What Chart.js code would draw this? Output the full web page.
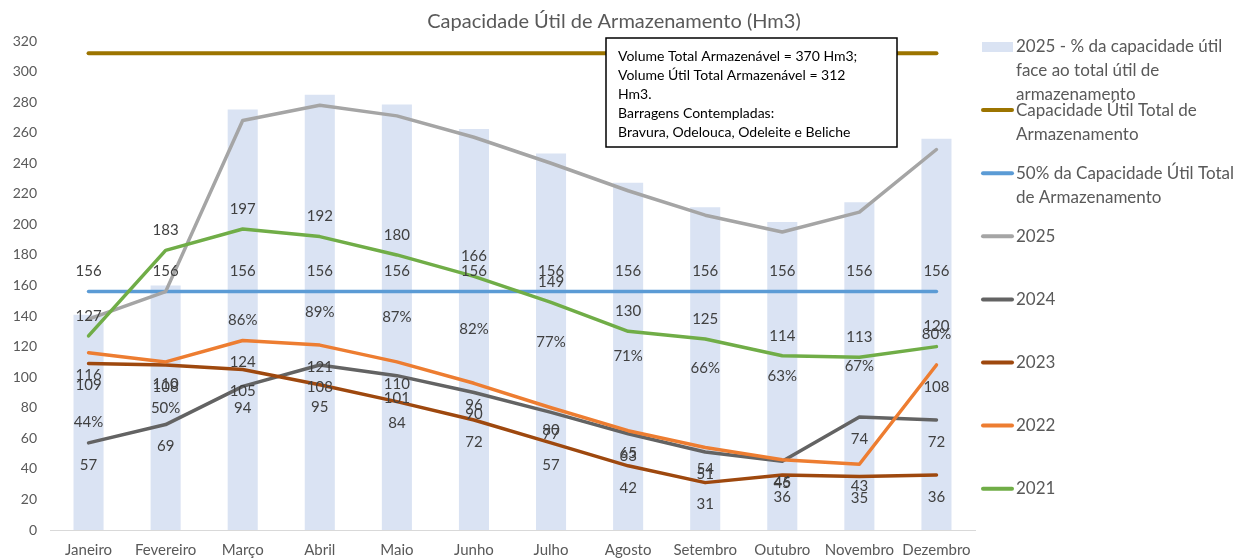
<!DOCTYPE html>
<html>
<head>
<meta charset="utf-8">
<script src="https://cdn.jsdelivr.net/npm/chart.js"></script>
<style>
    html, body { margin: 0; padding: 0; background: #fff; }
    #wrap { width: 1246px; height: 558px; position: relative; }
</style>
</head>
<body>
<div id="wrap"><canvas id="chartArmaz" width="1246" height="558"></canvas></div>
<script>
const months = ['Janeiro', 'Fevereiro', 'Março', 'Abril', 'Maio', 'Junho', 'Julho', 'Agosto', 'Setembro', 'Outubro', 'Novembro', 'Dezembro'];
const pct2025 = [44, 50, 86, 89, 87, 82, 77, 71, 66, 63, 67, 80];
const capTotal = [312, 312, 312, 312, 312, 312, 312, 312, 312, 312, 312, 312];
const cap50 = [156, 156, 156, 156, 156, 156, 156, 156, 156, 156, 156, 156];
const v2025 = [138, 156, 268, 278, 271, 257, 240, 222, 206, 195, 208, 249];
const v2024 = [57, 69, 94, 108, 101, 90, 77, 63, 51, 45, 74, 72];
const v2023 = [109, 108, 105, 95, 84, 72, 57, 42, 31, 36, 35, 36];
const v2022 = [116, 110, 124, 121, 110, 96, 80, 65, 54, 46, 43, 108];
const v2021 = [127, 183, 197, 192, 180, 166, 149, 130, 125, 114, 113, 120];

const titleText = 'Capacidade Útil de Armazenamento (Hm3)';
const noteLines = [
    'Volume Total Armazenável = 370 Hm3;',
    'Volume Útil Total Armazenável = 312',
    'Hm3.',
    'Barragens Contempladas:',
    'Bravura, Odelouca, Odeleite e Beliche'
];
const legendLines = [
    ['2025 - % da capacidade útil', 'face ao total útil de', 'armazenamento'],
    ['Capacidade Útil Total de', 'Armazenamento'],
    ['50% da Capacidade Útil Total', 'de Armazenamento'],
    ['2025'], ['2024'], ['2023'], ['2022'], ['2021']
];

const txt = '#595959';
Chart.defaults.font.family = 'Lato';
Chart.defaults.color = txt;

// data labels, placed from the library's own elements
const labelPlugin = {
    id: 'valueLabels',
    afterDatasetsDraw(chart) {
        const ctx = chart.ctx;
        ctx.save();
        ctx.font = '15px Lato';
        ctx.fillStyle = '#404040';
        ctx.textAlign = 'center';
        ctx.textBaseline = 'middle';
        chart.data.datasets.forEach((ds, i) => {
            if (!ds.labelPos) return;
            chart.getDatasetMeta(i).data.forEach((el, j) => {
                let y = el.y + 22;
                if (ds.labelPos === 'center') y = (el.y + el.base) / 2;
                if (ds.labelPos === 'above') y = el.y - 20;
                ctx.fillText(ds.data[j] + (ds.suffix || ''), el.x, y);
            });
        });
        ctx.restore();
    }
};

// title, note box and legend
const extrasPlugin = {
    id: 'extras',
    afterDraw(chart) {
        const ctx = chart.ctx;
        ctx.save();
        ctx.fillStyle = txt;
        ctx.font = '20px Lato';
        ctx.textAlign = 'center';
        ctx.textBaseline = 'middle';
        ctx.fillText(titleText, 614, 22);

        // note box
        ctx.fillStyle = '#fff';
        ctx.fillRect(606, 38, 291, 109);
        ctx.strokeStyle = '#000';
        ctx.lineWidth = 1.5;
        ctx.strokeRect(606, 38, 291, 109);
        ctx.fillStyle = '#000';
        ctx.font = '14px Lato';
        ctx.textAlign = 'left';
        noteLines.forEach((l, i) => ctx.fillText(l, 618, 56 + i * 19.2));

        // legend
        ctx.font = '17px Lato';
        chart.data.datasets.forEach((ds, i) => {
            const y = 47 + i * 63.1;
            if (ds.type === 'bar') {
                ctx.fillStyle = ds.backgroundColor;
                ctx.fillRect(982, y - 5, 31, 10);
            } else {
                ctx.strokeStyle = ds.borderColor;
                ctx.lineWidth = 4;
                ctx.lineCap = 'round';
                ctx.beginPath();
                ctx.moveTo(983, y);
                ctx.lineTo(1012, y);
                ctx.stroke();
            }
            ctx.fillStyle = txt;
            legendLines[i].forEach((l, k) => ctx.fillText(l, 1016, y + k * 24));
        });
        ctx.restore();
    }
};

const lineDs = (label, data, color, order, extra) => Object.assign({
    type: 'line',
    label: label,
    data: data,
    borderColor: color,
    backgroundColor: color,
    borderWidth: 3.5,
    borderJoinStyle: 'round',
    borderCapStyle: 'round',
    pointRadius: 0,
    tension: 0,
    order: order,
    yAxisID: 'y'
}, extra || {});

new Chart(document.getElementById('chartArmaz'), {
    data: {
        labels: months,
        datasets: [
            {
                type: 'bar',
                label: '2025 - % da capacidade útil face ao total útil de armazenamento',
                data: pct2025,
                backgroundColor: '#dae3f3',
                barPercentage: 0.39,
                categoryPercentage: 1,
                yAxisID: 'y1',
                order: 9,
                labelPos: 'center',
                suffix: '%'
            },
            lineDs('Capacidade Útil Total de Armazenamento', capTotal, '#9c7400', 8, { borderWidth: 4 }),
            lineDs('50% da Capacidade Útil Total de Armazenamento', cap50, '#5b9bd5', 7, { labelPos: 'above' }),
            lineDs('2025', v2025, '#a5a5a5', 6),
            lineDs('2024', v2024, '#636363', 5, { labelPos: 'below' }),
            lineDs('2023', v2023, '#9e480e', 4, { labelPos: 'below' }),
            lineDs('2022', v2022, '#ed7d31', 3, { labelPos: 'below' }),
            lineDs('2021', v2021, '#70ad47', 2, { labelPos: 'above' })
        ]
    },
    options: {
        responsive: false,
        animation: false,
        layout: { padding: { top: 41, right: 271, left: 0, bottom: 0 } },
        plugins: {
            legend: { display: false },
            title: { display: false },
            tooltip: { enabled: false }
        },
        scales: {
            x: {
                offset: true,
                grid: { display: false, drawTicks: false },
                border: { display: true, color: '#d9d9d9', width: 1 },
                ticks: { color: txt, font: { size: 15 }, padding: 11, autoSkip: false, maxRotation: 0 },
                afterFit: s => { s.height = 28; }
            },
            y: {
                min: 0,
                max: 320,
                grid: { display: false, drawTicks: false },
                border: { display: false },
                ticks: { stepSize: 20, color: txt, font: { size: 14 }, padding: 13 },
                afterFit: s => { s.width = 50; }
            },
            y1: {
                display: false,
                min: 0,
                max: 100
            }
        }
    },
    plugins: [labelPlugin, extrasPlugin]
});
</script>
</body>
</html>
